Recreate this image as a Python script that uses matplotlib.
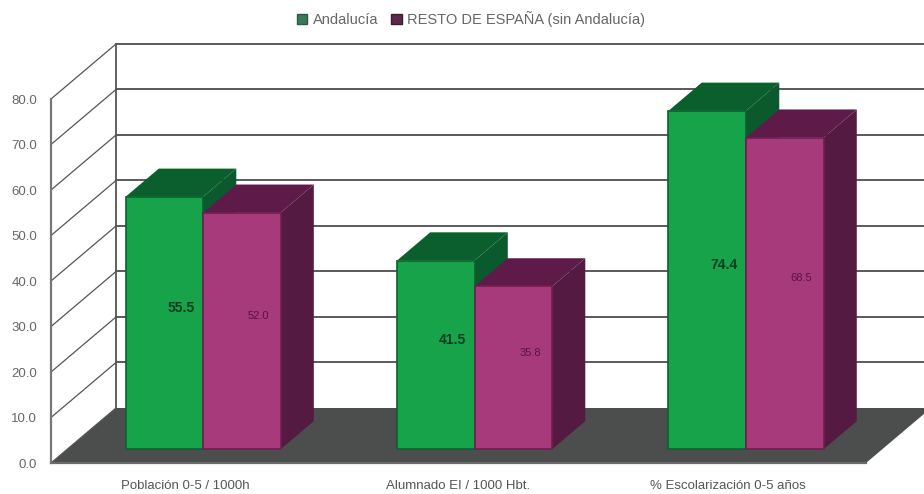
import matplotlib
matplotlib.use("Agg")
import matplotlib.pyplot as plt
from matplotlib.patches import Patch

plt.rcParams['font.family'] = ['Liberation Sans', 'DejaVu Sans']

categories = ["Población 0-5 / 1000h", "Alumnado EI / 1000 Hbt.", "% Escolarización 0-5 años"]
series_names = ["Andalucía", "RESTO DE ESPAÑA (sin Andalucía)"]
andalucia = [55.5, 41.5, 74.4]
resto = [52.0, 35.8, 68.5]
value_ticks = [0, 10, 20, 30, 40, 50, 60, 70, 80]

W, H = 924, 494
fig = plt.figure(figsize=(W / 100, H / 100), dpi=100, facecolor="white")
L, R, B, T = 51, 866, 463, 99
ax = fig.add_axes([L / W, 1 - B / H, (R - L) / W, (B - T) / H])
ax.set_xlim(-0.56, 2.442)
ax.set_ylim(0, 80)
ax.set_facecolor("none")

# oblique projection offsets, in data units
WALL_DX, WALL_DY = 0.2394, 12.09
BAR_DX, BAR_DY = 0.1225, 6.2
FRONT_DY = 3.0
BAR_W = 0.2855
x0, x1 = ax.get_xlim()

kw = dict(clip_on=False)
# floor
ax.fill([x0, x0 + WALL_DX, x1 + WALL_DX, x1], [0, WALL_DY, WALL_DY, 0],
        color="#4c4e4e", lw=0, zorder=1, **kw)
# left wall and back wall grid
for v in value_ticks:
    ax.plot([x0, x0 + WALL_DX], [v, v + WALL_DY], color="#555555", lw=0.9, zorder=1.5, **kw)
    if v > 0:
        ax.plot([x0 + WALL_DX, x1 + WALL_DX], [v + WALL_DY, v + WALL_DY],
                color="#5a5a5a", lw=1.4, zorder=1.5, **kw)
ax.plot([x0 + WALL_DX] * 2, [WALL_DY, 80 + WALL_DY], color="#555555", lw=1.3, zorder=1.5, **kw)


def bar3d(left, value, front, top, side, edge, text_color, text_size, text_weight):
    xl, xr = left, left + BAR_W
    yb, yt = FRONT_DY, FRONT_DY + value
    ax.fill([xr, xr + BAR_DX, xr + BAR_DX, xr], [yb, yb + BAR_DY, yt + BAR_DY, yt],
            color=side, lw=0, zorder=2, **kw)
    ax.fill([xl, xl + BAR_DX, xr + BAR_DX, xr], [yt, yt + BAR_DY, yt + BAR_DY, yt],
            color=top, lw=0, zorder=2, **kw)
    ax.fill([xl, xr, xr, xl], [yb, yb, yt, yt], facecolor=front, edgecolor=edge, lw=1.2, zorder=2, **kw)
    ax.text((xl + xr + BAR_DX) / 2, yb + (value + BAR_DY) / 2 + 0.2, f"{value:.1f}", ha="center", va="center",
            color=text_color, fontsize=text_size, fontweight=text_weight, zorder=3)


for i in range(len(categories)):
    bar3d(i - BAR_W, andalucia[i], "#17a34a", "#0b5f2c", "#0a5a2d", "#0c6030", "#0b3d20", 10, "bold")
    bar3d(i, resto[i], "#a63a7a", "#5e1a48", "#541a42", "#6e1f52", "#5e1048", 8, "normal")

ax.set_xticks([-0.066, 0.939, 1.934], categories)
ax.set_yticks(value_ticks, [f"{v:.1f}" for v in value_ticks])
ax.tick_params(axis="y", length=0, pad=10, labelsize=9.5, labelcolor="#666666")
ax.tick_params(axis="x", length=0, pad=12, labelsize=9.5, labelcolor="#555555")
for s in ("top", "right"):
    ax.spines[s].set_visible(False)
ax.spines["left"].set_color("#777777")
ax.spines["left"].set_linewidth(1.6)
ax.spines["bottom"].set_color("#6a6a6a")
ax.spines["bottom"].set_linewidth(1.6)
ax.spines["left"].set_zorder(4)
ax.spines["bottom"].set_zorder(4)

handles = [Patch(facecolor="#3a7a58", edgecolor="#2a5a40", label=series_names[0]),
           Patch(facecolor="#5a2a48", edgecolor="#3e1a33", label=series_names[1])]
leg = fig.legend(handles=handles, ncol=2, loc="center", bbox_to_anchor=(471 / W, 1 - 19 / H), frameon=False,
                 fontsize=10.5, labelcolor="#666666", handlelength=0.7, handleheight=0.7,
                 handletextpad=0.4, columnspacing=0.9)

fig.savefig("out.png", dpi=100, facecolor="white")
